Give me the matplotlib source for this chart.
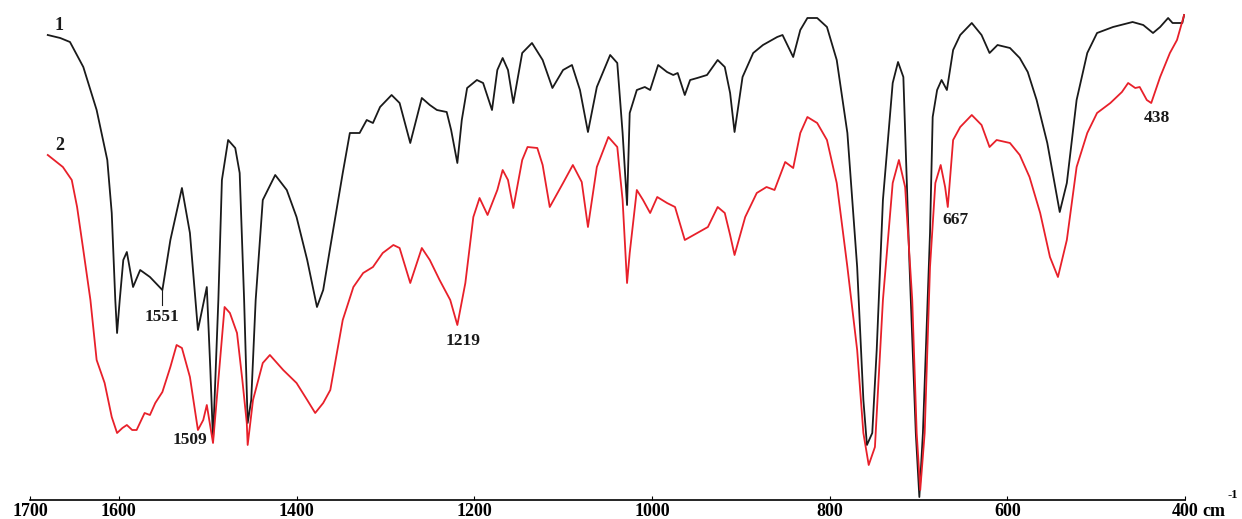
import numpy as np
import matplotlib
matplotlib.use("Agg")
import matplotlib.pyplot as plt

# Spectrum 1 (black): wavenumber (cm-1) and transmittance (%)
wn1 = [1680, 1666, 1655, 1640, 1625, 1613, 1608, 1604, 1602, 1599, 1595, 1591, 1584, 1576,
       1565, 1551, 1542, 1529, 1520, 1511, 1501, 1497, 1494, 1488, 1484, 1477, 1469, 1464,
       1459, 1455, 1451, 1446, 1438, 1424, 1411, 1400, 1388, 1377, 1370, 1362, 1348, 1340,
       1329, 1321, 1314, 1306, 1293, 1284, 1272, 1259, 1250, 1242, 1231, 1226, 1219, 1214,
       1208, 1197, 1190, 1180, 1174, 1168, 1162, 1156, 1146, 1135, 1123, 1112, 1100, 1090,
       1081, 1072, 1062, 1047, 1039, 1033, 1028, 1025, 1017, 1008, 1002, 993, 983, 976,
       971, 963, 957, 949, 938, 926, 918, 912, 907, 898, 886, 875, 859, 853,
       841, 833, 825, 814, 803, 792, 780, 769, 762, 758, 752, 747, 740, 729,
       723, 717, 710, 703, 699, 695, 687, 684, 679, 674, 668, 661, 653, 640,
       629, 620, 611, 597, 586, 577, 567, 555, 546, 541, 533, 522, 510, 499,
       481, 459, 447, 436, 428, 419, 414, 403, 401]
t1 = [93.0, 92.4, 91.6, 86.6, 78.0, 68.0, 57.4, 40.0, 33.4, 40.0, 48.0, 49.6, 42.6, 46.0,
      44.6, 42.0, 52.0, 62.4, 53.4, 34.0, 42.6, 26.0, 12.0, 40.0, 64.0, 72.0, 70.4, 65.4,
      40.0, 15.4, 20.0, 40.0, 60.0, 65.0, 62.0, 56.6, 48.0, 38.6, 42.0, 50.6, 65.4, 73.4,
      73.4, 76.0, 75.4, 78.6, 81.0, 79.4, 71.4, 80.4, 79.0, 78.0, 77.6, 74.0, 67.4, 76.0,
      82.4, 84.0, 83.4, 78.0, 86.0, 88.4, 86.0, 79.4, 89.4, 91.4, 88.0, 82.4, 86.0, 87.0,
      82.0, 73.6, 82.6, 89.0, 87.4, 73.4, 59.0, 77.4, 82.0, 82.6, 82.0, 87.0, 85.6, 85.0,
      85.4, 81.0, 84.0, 84.4, 85.0, 88.0, 86.6, 81.4, 73.6, 84.6, 89.4, 91.0, 92.6, 93.0,
      88.6, 94.0, 96.4, 96.4, 94.6, 88.0, 73.4, 46.6, 20.0, 11.0, 13.4, 30.0, 60.0, 83.4,
      87.6, 84.6, 46.6, 13.4, 0.6, 13.4, 53.4, 76.6, 82.0, 84.0, 82.0, 90.0, 93.0, 95.4,
      93.0, 89.4, 91.0, 90.4, 88.4, 85.6, 80.0, 71.4, 62.6, 57.6, 63.4, 80.0, 89.4, 93.4,
      94.6, 95.6, 95.0, 93.4, 94.6, 96.4, 95.4, 95.4, 97.0]

# Spectrum 2 (red)
wn2 = [1680, 1663, 1653, 1647, 1640, 1632, 1625, 1616, 1608, 1602, 1596, 1591, 1585, 1580,
       1571, 1565, 1559, 1551, 1542, 1535, 1529, 1520, 1511, 1505, 1501, 1494, 1488, 1481,
       1475, 1467, 1461, 1456, 1455, 1449, 1438, 1430, 1415, 1400, 1388, 1379, 1370, 1362,
       1348, 1336, 1325, 1314, 1303, 1291, 1284, 1272, 1259, 1250, 1239, 1227, 1219, 1210,
       1201, 1194, 1185, 1174, 1168, 1162, 1156, 1146, 1140, 1129, 1123, 1115, 1100, 1089,
       1079, 1072, 1062, 1049, 1039, 1033, 1028, 1025, 1017, 1010, 1002, 994, 983, 974,
       968, 963, 949, 937, 926, 918, 912, 907, 895, 882, 871, 862, 850, 841,
       833, 825, 814, 803, 792, 780, 769, 762, 756, 749, 740, 729, 722, 715,
       707, 702, 698, 693, 687, 681, 675, 670, 667, 661, 653, 640, 629, 620,
       612, 597, 586, 575, 563, 552, 543, 533, 522, 510, 499, 484, 471, 464,
       456, 451, 443, 438, 428, 417, 409, 401]
t2 = [69.0, 66.6, 64.0, 58.6, 50.0, 40.0, 28.0, 23.4, 16.6, 13.4, 14.4, 15.0, 14.0, 14.0,
      17.4, 17.0, 19.4, 21.6, 26.6, 31.0, 30.4, 24.6, 14.0, 16.0, 19.0, 11.4, 24.0, 38.6,
      37.4, 33.4, 24.0, 15.4, 11.0, 20.0, 27.4, 29.0, 26.0, 23.4, 20.0, 17.4, 19.4, 22.0,
      36.0, 42.6, 45.4, 46.6, 49.4, 51.0, 50.4, 43.4, 50.4, 48.0, 44.0, 40.0, 35.0, 43.4,
      56.6, 60.4, 57.0, 62.0, 66.0, 64.0, 58.4, 68.0, 70.6, 70.4, 67.0, 58.6, 63.4, 67.0,
      63.6, 54.6, 66.6, 72.6, 70.6, 60.0, 43.4, 49.4, 62.0, 60.0, 57.4, 60.6, 59.4, 58.6,
      55.0, 52.0, 53.4, 54.6, 58.6, 57.4, 53.0, 49.0, 56.6, 61.4, 62.6, 62.0, 67.6, 66.4,
      73.4, 76.6, 75.4, 72.0, 63.4, 46.6, 30.0, 13.4, 7.0, 10.6, 40.0, 63.4, 68.0, 62.6,
      40.0, 13.4, 2.0, 13.4, 46.6, 63.4, 67.0, 62.6, 58.6, 72.0, 74.6, 77.0, 75.0, 70.6,
      72.0, 71.4, 69.0, 64.6, 57.4, 48.6, 44.6, 52.0, 66.6, 73.4, 77.4, 79.4, 81.6, 83.4,
      82.4, 82.6, 80.0, 79.4, 84.6, 89.4, 92.0, 97.0]

ticks = [1700, 1600, 1400, 1200, 1000, 800, 600, 400]
tick_labels = ["1700", "1600", "1400", "1200", "1000", "800", "600", "400"]

# Band labels: (text, wavenumber, transmittance)
bands = [("1551", 1551, 36.6), ("1509", 1520, 12.0), ("1219", 1213, 31.8),
         ("667", 658, 56.0), ("438", 432, 76.4)]
curve_names = [("1", 1667, 95.0), ("2", 1666, 71.0)]

W, H = 1242, 519
fig = plt.figure(figsize=(W / 100, H / 100), dpi=100)
ax = fig.add_axes([30 / W, 19 / H, (1185 - 30) / W, 500 / H])

serif = ["Liberation Serif", "DejaVu Serif"]

ax.plot(wn1, t1, color="#1a1a1a", lw=1.3, solid_joinstyle="round")
ax.plot(wn2, t2, color="#e8202a", lw=1.3, solid_joinstyle="round")

ax.set_xlim(1700, 400)
ax.set_ylim(0, 100)

for s in ("top", "left", "right"):
    ax.spines[s].set_visible(False)
ax.spines["bottom"].set_linewidth(1.2)
ax.set_yticks([])
ax.set_xticks(ticks)
ax.set_xticklabels(tick_labels, fontfamily=serif, fontweight="bold", fontsize=13)
ax.tick_params(axis="x", direction="in", length=3, width=0.8, pad=2.5)

# unit label next to the last tick
fig.text(1202 / W, 2.5 / H, "cm", ha="left", va="baseline",
         fontfamily=serif, fontweight="bold", fontsize=13)
fig.text(1228 / W, 21 / H, "-1", ha="left", va="baseline",
         fontfamily=serif, fontweight="bold", fontsize=9)

for txt, x, y in bands:
    ax.text(x, y, txt, ha="center", va="center", fontfamily=serif,
            fontweight="bold", fontsize=12.5, color="#1a1a1a")
# leader line for the 1551 shoulder
ax.plot([1551, 1551], [42.0, 39.0], color="#1a1a1a", lw=0.8)

for txt, x, y in curve_names:
    ax.text(x, y, txt, ha="center", va="center", fontfamily=serif,
            fontweight="bold", fontsize=13, color="#1a1a1a")

fig.savefig("out.png", dpi=100)
